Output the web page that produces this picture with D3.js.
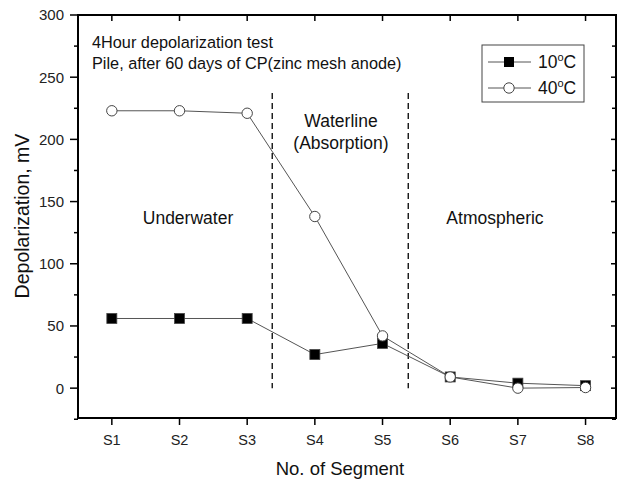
<!DOCTYPE html>
<html><head><meta charset="utf-8">
<script src="https://cdn.jsdelivr.net/npm/d3@7"></script>
<style>body{margin:0;background:#fff}svg{font-family:"Liberation Sans",Arial,sans-serif}</style>
</head><body><svg id="c" width="620" height="480"></svg>
<script>
const categories = ["S1","S2","S3","S4","S5","S6","S7","S8"];
const series10 = [56, 56, 56, 27, 36, 9, 4, 2];
const series40 = [223, 223, 221, 138, 42, 9, 0, 0.5];
const yTicks = [0, 50, 100, 150, 200, 250, 300];
const yMinorTicks = [-25, 25, 75, 125, 175, 225, 275];
const regionBounds = [3.37, 5.38];
const seriesNames = ["10", "40"];

const svg = d3.select("#c");
const L = 78, R = 616, T = 15, B = 418;
const x = d3.scaleLinear().domain([0.5, 8.45]).range([L, R]);
const y = d3.scaleLinear().domain([-24, 300]).range([B, T]);

// frame
svg.append("rect").attr("x", L).attr("y", T).attr("width", R - L).attr("height", B - T)
  .attr("fill", "none").attr("stroke", "#000").attr("stroke-width", 2);

// axes
const gl = svg.append("g");
yTicks.forEach(v => {
  gl.append("line").attr("x1", L - 8).attr("x2", L).attr("y1", y(v)).attr("y2", y(v)).attr("stroke", "#000").attr("stroke-width", 1.5);
  gl.append("text").attr("x", L - 14).attr("y", y(v)).attr("dy", "0.36em").attr("text-anchor", "end")
    .attr("font-size", 15).attr("fill", "#222").text(v);
  gl.append("line").attr("x1", R - 5).attr("x2", R).attr("y1", y(v)).attr("y2", y(v)).attr("stroke", "#000").attr("stroke-width", 1.5);
});
yMinorTicks.forEach(v => {
  gl.append("line").attr("x1", L - 4).attr("x2", L).attr("y1", y(v)).attr("y2", y(v)).attr("stroke", "#000").attr("stroke-width", 1.5);
  gl.append("line").attr("x1", R - 4).attr("x2", R).attr("y1", y(v)).attr("y2", y(v)).attr("stroke", "#000").attr("stroke-width", 1.5);
});
categories.forEach((c, i) => {
  const xv = x(i + 1);
  gl.append("line").attr("x1", xv).attr("x2", xv).attr("y1", B).attr("y2", B + 7).attr("stroke", "#000").attr("stroke-width", 1.5);
  gl.append("line").attr("x1", xv).attr("x2", xv).attr("y1", T).attr("y2", T + 6).attr("stroke", "#000").attr("stroke-width", 1.5);
  gl.append("text").attr("x", xv).attr("y", B + 27).attr("text-anchor", "middle")
    .attr("font-size", 14.5).attr("fill", "#222").text(c);
});

// axis titles
svg.append("text").attr("transform", `translate(29,216) rotate(-90)`).attr("text-anchor", "middle")
  .attr("font-size", 19.5).attr("fill", "#111").text("Depolarization, mV");
svg.append("text").attr("x", 340).attr("y", 475).attr("text-anchor", "middle")
  .attr("font-size", 18.5).attr("fill", "#111").text("No. of Segment");

// region dashed lines
regionBounds.forEach(b => {
  svg.append("line").attr("x1", x(b)).attr("x2", x(b)).attr("y1", 93).attr("y2", y(0))
    .attr("stroke", "#000").attr("stroke-width", 1.3).attr("stroke-dasharray", "6,4");
});

// annotations
svg.append("text").attr("x", 92).attr("y", 48).attr("font-size", 16.3).attr("fill", "#111").text("4Hour depolarization test");
svg.append("text").attr("x", 92).attr("y", 69).attr("font-size", 16.3).attr("fill", "#111").text("Pile, after 60 days of CP(zinc mesh anode)");
svg.append("text").attr("x", 341).attr("y", 127).attr("text-anchor", "middle").attr("font-size", 17.5).attr("fill", "#111").text("Waterline");
svg.append("text").attr("x", 341).attr("y", 149).attr("text-anchor", "middle").attr("font-size", 17.5).attr("fill", "#111").text("(Absorption)");
svg.append("text").attr("x", 188).attr("y", 224).attr("text-anchor", "middle").attr("font-size", 17.5).attr("fill", "#111").text("Underwater");
svg.append("text").attr("x", 495).attr("y", 224).attr("text-anchor", "middle").attr("font-size", 17.5).attr("fill", "#111").text("Atmospheric");

// lines
const line = d3.line().x((d, i) => x(i + 1)).y(d => y(d));
[series10, series40].forEach(s => {
  svg.append("path").attr("d", line(s)).attr("fill", "none").attr("stroke", "#555").attr("stroke-width", 1);
});
// markers
svg.append("g").selectAll("rect").data(series10).join("rect")
  .attr("x", (d, i) => x(i + 1) - 5).attr("y", d => y(d) - 5).attr("width", 10).attr("height", 10)
  .attr("fill", "#000").attr("stroke", "#444").attr("stroke-width", 0.8);
svg.append("g").selectAll("circle").data(series40).join("circle")
  .attr("cx", (d, i) => x(i + 1)).attr("cy", d => y(d)).attr("r", 5.2)
  .attr("fill", "#fff").attr("stroke", "#444").attr("stroke-width", 1);

// legend
const lg = svg.append("g");
lg.append("rect").attr("x", 482).attr("y", 45).attr("width", 102).attr("height", 57)
  .attr("fill", "#fff").attr("stroke", "#444").attr("stroke-width", 1);
seriesNames.forEach((n, i) => {
  const yy = 62 + i * 26;
  lg.append("line").attr("x1", 488).attr("x2", 531).attr("y1", yy).attr("y2", yy).attr("stroke", "#555").attr("stroke-width", 1);
  if (i === 0) lg.append("rect").attr("x", 504).attr("y", yy - 5).attr("width", 10).attr("height", 10).attr("fill", "#000");
  else lg.append("circle").attr("cx", 509).attr("cy", yy).attr("r", 5.2).attr("fill", "#fff").attr("stroke", "#444");
  const t = lg.append("text").attr("x", 538).attr("y", yy + 6).attr("font-size", 17.5).attr("fill", "#111");
  t.append("tspan").text(n);
  t.append("tspan").attr("font-size", 11).attr("dy", -7).text("o");
  t.append("tspan").attr("dy", 7).text("C");
});
</script></body></html>
